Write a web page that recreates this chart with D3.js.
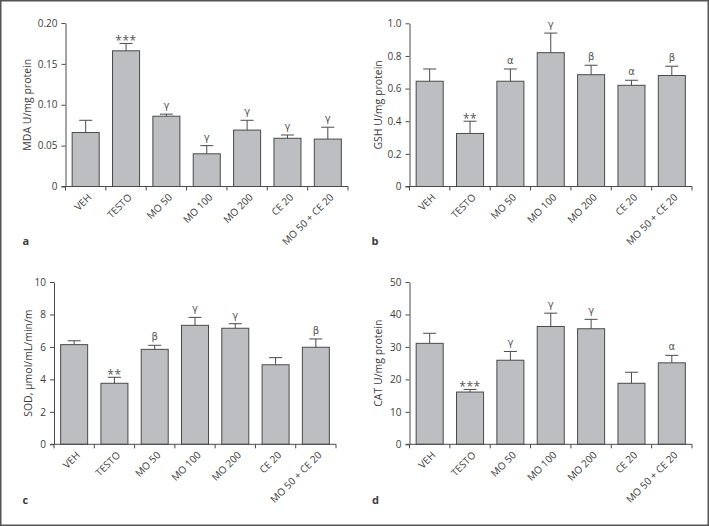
<!DOCTYPE html>
<html>
<head>
<meta charset="utf-8">
<script src="https://cdn.jsdelivr.net/npm/d3@7"></script>
<style>
  html, body { margin: 0; padding: 0; background: #fff; }
  svg { display: block; }
  text { font-family: "Open Sans", "DejaVu Sans", sans-serif; fill: #3c3c3c; }
</style>
</head>
<body>
<svg id="chart" width="709" height="526"></svg>
<script>
// ---------- data ----------
const categories = ["VEH", "TESTO", "MO 50", "MO 100", "MO 200", "CE 20", "MO 50 + CE 20"];

const mdaMean = [0.066, 0.166, 0.086, 0.040, 0.069, 0.059, 0.058];
const mdaErr  = [0.015, 0.009, 0.0025, 0.010, 0.012, 0.004, 0.0145];
const mdaSig  = ["", "***", "γ", "γ", "γ", "γ", "γ"];
const mdaTicks = [0, 0.05, 0.10, 0.15, 0.20];
const mdaTickLabels = ["0", "0.05", "0.10", "0.15", "0.20"];

const gshMean = [0.645, 0.325, 0.645, 0.82, 0.685, 0.62, 0.68];
const gshErr  = [0.075, 0.075, 0.075, 0.12, 0.058, 0.031, 0.057];
const gshSig  = ["", "**", "α", "γ", "β", "α", "β"];
const gshTicks = [0, 0.2, 0.4, 0.6, 0.8, 1.0];
const gshTickLabels = ["0", "0.2", "0.4", "0.6", "0.8", "1.0"];

const sodMean = [6.14, 3.76, 5.85, 7.33, 7.15, 4.90, 5.98];
const sodErr  = [0.24, 0.37, 0.25, 0.49, 0.28, 0.44, 0.51];
const sodSig  = ["", "**", "β", "γ", "γ", "", "β"];
const sodTicks = [0, 2, 4, 6, 8, 10];
const sodTickLabels = ["0", "2", "4", "6", "8", "10"];

const catMean = [31.1, 16.1, 25.9, 36.3, 35.6, 18.8, 25.1];
const catErr  = [3.1, 0.8, 2.7, 4.1, 2.9, 3.4, 2.3];
const catSig  = ["", "***", "γ", "γ", "γ", "", "α"];
const catTicks = [0, 10, 20, 30, 40, 50];
const catTickLabels = ["0", "10", "20", "30", "40", "50"];

// ---------- layout ----------
const panels = [
  { letter: "a", mean: mdaMean, err: mdaErr, sig: mdaSig, ticks: mdaTicks, tickLabels: mdaTickLabels,
    yLabel: "MDA U/mg protein", x0: 65.5, x1: 348, top: 23, bot: 186.5, labelX: 27, letterX: 22.5, letterY: 245 },
  { letter: "b", mean: gshMean, err: gshErr, sig: gshSig, ticks: gshTicks, tickLabels: gshTickLabels,
    yLabel: "GSH U/mg protein", x0: 409.5, x1: 692, top: 23.3, bot: 186.5, labelX: 378, letterX: 371.5, letterY: 245 },
  { letter: "c", mean: sodMean, err: sodErr, sig: sodSig, ticks: sodTicks, tickLabels: sodTickLabels,
    yLabel: "SOD, μmol/mL/min/m", x0: 54, x1: 336, top: 282, bot: 444.3, labelX: 28, letterX: 22.5, letterY: 503.5 },
  { letter: "d", mean: catMean, err: catErr, sig: catSig, ticks: catTicks, tickLabels: catTickLabels,
    yLabel: "CAT U/mg protein", x0: 409.5, x1: 692, top: 282, bot: 444.3, labelX: 378, letterX: 372, letterY: 503.5 }
];

const ink = "#4a4a4a";
const barFill = "#bdbec1";
const svg = d3.select("#chart");

// outer frame
svg.append("rect")
  .attr("x", 0.75).attr("y", 0.75).attr("width", 707.5).attr("height", 524.5)
  .attr("fill", "none").attr("stroke", "#555").attr("stroke-width", 1.5);

panels.forEach(p => {
  const g = svg.append("g");
  const yMax = p.ticks[p.ticks.length - 1];
  const y = d3.scaleLinear().domain([0, yMax]).range([p.bot, p.top]);
  const band = d3.scaleBand().domain(categories).range([p.x0, p.x1]).padding(0);
  const xb = d3.scaleBand().domain(categories).range([p.x0, p.x1])
    .paddingInner(0.33).paddingOuter(0.165).align(0.5);

  // bars
  g.selectAll("rect.bar").data(categories).join("rect")
    .attr("class", "bar")
    .attr("x", c => xb(c))
    .attr("width", xb.bandwidth())
    .attr("y", (c, i) => y(p.mean[i]))
    .attr("height", (c, i) => y(0) - y(p.mean[i]))
    .attr("fill", barFill)
    .attr("stroke", ink)
    .attr("stroke-width", 1);

  // error bars (upward only)
  const cx = c => xb(c) + xb.bandwidth() / 2;
  g.selectAll("line.err").data(categories).join("line")
    .attr("x1", cx).attr("x2", cx)
    .attr("y1", (c, i) => y(p.mean[i]))
    .attr("y2", (c, i) => y(p.mean[i] + p.err[i]))
    .attr("stroke", ink).attr("stroke-width", 1);
  g.selectAll("line.cap").data(categories).join("line")
    .attr("x1", c => cx(c) - 6.5).attr("x2", c => cx(c) + 6.5)
    .attr("y1", (c, i) => y(p.mean[i] + p.err[i]))
    .attr("y2", (c, i) => y(p.mean[i] + p.err[i]))
    .attr("stroke", ink).attr("stroke-width", 1);

  // significance marks
  g.selectAll("text.sig").data(categories).join("text")
    .attr("x", c => cx(c))
    .attr("y", (c, i) => {
      const t = y(p.mean[i] + p.err[i]);
      return p.sig[i].startsWith("*") ? t + 1.5 : t - 5;
    })
    .attr("text-anchor", "middle")
    .style("font-family", (c, i) => p.sig[i].startsWith("*") ? null : "'DejaVu Sans', sans-serif")
    .attr("font-size", (c, i) => p.sig[i].startsWith("*") ? "12px" : "10px")
    .attr("letter-spacing", (c, i) => p.sig[i].startsWith("*") ? "0.5px" : "0px")
    .style("fill", "#555")
    .text((c, i) => p.sig[i]);

  // y axis
  const yAxis = d3.axisLeft(y)
    .tickValues(p.ticks)
    .tickFormat((d, i) => p.tickLabels[i])
    .tickSize(4).tickSizeOuter(0).tickPadding(4);
  const ya = g.append("g").attr("transform", `translate(${p.x0},0)`).call(yAxis);
  ya.select(".domain").attr("stroke", ink);
  ya.selectAll(".tick line").attr("stroke", ink);
  ya.selectAll(".tick text").attr("font-size", "10px").attr("font-family", null).attr("fill", "#3c3c3c");

  // x axis: baseline plus ticks at band boundaries
  g.append("line")
    .attr("x1", p.x0 - 4).attr("x2", p.x1)
    .attr("y1", p.bot).attr("y2", p.bot)
    .attr("stroke", ink).attr("stroke-width", 1);
  const bounds = categories.map(c => band(c)).concat([p.x1]);
  g.selectAll("line.xt").data(bounds).join("line")
    .attr("x1", d => d).attr("x2", d => d)
    .attr("y1", p.bot).attr("y2", p.bot + 4)
    .attr("stroke", ink).attr("stroke-width", 1);

  // rotated category labels
  g.selectAll("text.xl").data(categories).join("text")
    .attr("transform", c => `translate(${cx(c) + 4},${p.bot + 9}) rotate(-45)`)
    .attr("text-anchor", "end")
    .attr("dy", "0.35em")
    .attr("font-size", "10px")
    .text(c => c);

  // y label
  g.append("text")
    .attr("transform", `translate(${p.labelX},${(p.top + p.bot) / 2}) rotate(-90)`)
    .attr("text-anchor", "middle")
    .attr("dy", "0.35em")
    .attr("font-size", "10.5px")
    .text(p.yLabel);

  // panel letter
  g.append("text")
    .attr("x", p.letterX).attr("y", p.letterY)
    .attr("font-size", "11px").attr("font-weight", "bold")
    .attr("fill", "#222")
    .text(p.letter);
});
</script>
</body>
</html>
